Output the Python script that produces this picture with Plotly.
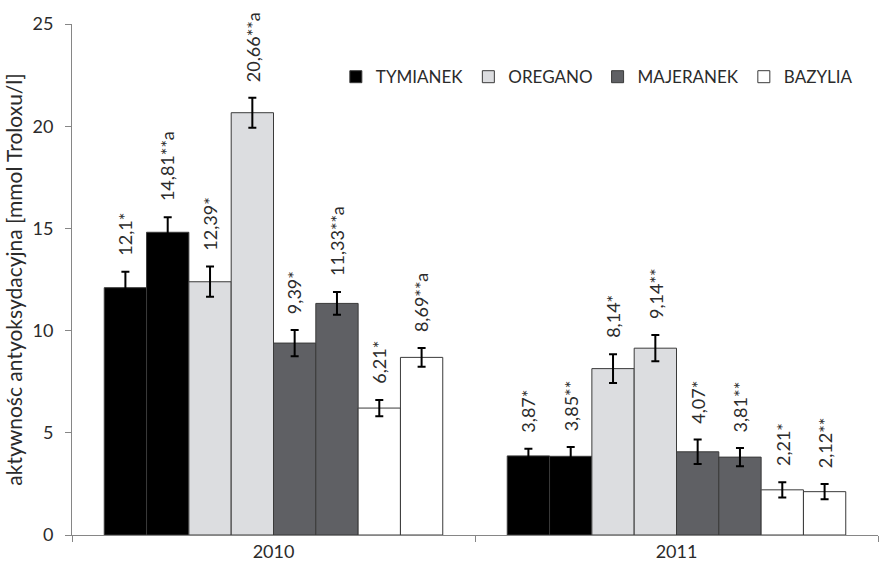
import plotly.graph_objects as go

years = ["2010", "2011"]
series = ["TYMIANEK", "TYMIANEK", "OREGANO", "OREGANO",
          "MAJERANEK", "MAJERANEK", "BAZYLIA", "BAZYLIA"]
colors = {"TYMIANEK": "#000000", "OREGANO": "#dcdde0",
          "MAJERANEK": "#5f6064", "BAZYLIA": "#ffffff"}
values_2010 = [12.1, 14.81, 12.39, 20.66, 9.39, 11.33, 6.21, 8.69]
values_2011 = [3.87, 3.85, 8.14, 9.14, 4.07, 3.81, 2.21, 2.12]
err_2010 = [0.78, 0.73, 0.74, 0.73, 0.64, 0.56, 0.40, 0.46]
err_2011 = [0.35, 0.45, 0.70, 0.64, 0.60, 0.45, 0.37, 0.37]
labels_2010 = ["12,1*", "14,81**a", "12,39*", "20,66**a",
               "9,39*", "11,33**a", "6,21*", "8,69**a"]
labels_2011 = ["3,87*", "3,85**", "8,14*", "9,14**",
               "4,07*", "3,81**", "2,21*", "2,12**"]

FONT = "Lato"
TXT = "#2b2b2b"
fig = go.Figure()
seen = set()
for i, name in enumerate(series):
    show = name not in seen
    seen.add(name)
    fig.add_trace(go.Bar(
        x=years, y=[values_2010[i], values_2011[i]],
        name=name, legendgroup=name, showlegend=show,
        marker=dict(color=colors[name], line=dict(color="#3a3a3a", width=1)),
        error_y=dict(type="data", array=[err_2010[i], err_2011[i]],
                     color="#000000", thickness=2, width=4),
    ))

# layout geometry
L, R, T, B = 72, 5, 24, 38
W, H = 883, 573
bargap = 0.16
plot_w = W - L - R
cat_w = plot_w / len(years)
bar_w = cat_w * (1 - bargap) / len(series)

for gi, (vals, errs, labs) in enumerate([(values_2010, err_2010, labels_2010),
                                         (values_2011, err_2011, labels_2011)]):
    for i in range(len(series)):
        fig.add_annotation(
            x=gi, y=vals[i] + errs[i], xref="x", yref="y",
            text=labs[i], textangle=-90, showarrow=False,
            xanchor="center", yanchor="bottom",
            xshift=(i - 3.5) * bar_w, yshift=14,
            font=dict(family=FONT, size=18, color=TXT),
        )

fig.update_layout(
    width=W, height=H,
    margin=dict(l=L, r=R, t=T, b=B),
    barmode="group", bargap=bargap, bargroupgap=0,
    plot_bgcolor="white", paper_bgcolor="white",
    font=dict(family=FONT, size=18, color=TXT),
    legend=dict(orientation="h", x=0.975, y=0.896, xanchor="right", yanchor="middle",
                font=dict(family=FONT, size=17, color=TXT),
                itemwidth=30, traceorder="normal", bgcolor="rgba(0,0,0,0)"),
    xaxis=dict(type="category", range=[-0.5, 1.5], tickson="boundaries",
               ticks="outside", ticklen=6,
               tickcolor="#868686", showline=True, linecolor="#868686", linewidth=1,
               showgrid=False, tickfont=dict(family=FONT, size=18, color=TXT)),
    yaxis=dict(range=[0, 25], dtick=5, ticks="outside", ticklen=6,
               tickcolor="#868686", showline=True, linecolor="#868686", linewidth=1,
               showgrid=False, zeroline=False, ticklabelstandoff=8,
               title=dict(text="aktywnośc antyoksydacyjna [mmol Troloxu/l]",
                          font=dict(family=FONT, size=21, color=TXT), standoff=4),
               tickfont=dict(family=FONT, size=18, color=TXT)),
)

fig.write_html("out.html")
